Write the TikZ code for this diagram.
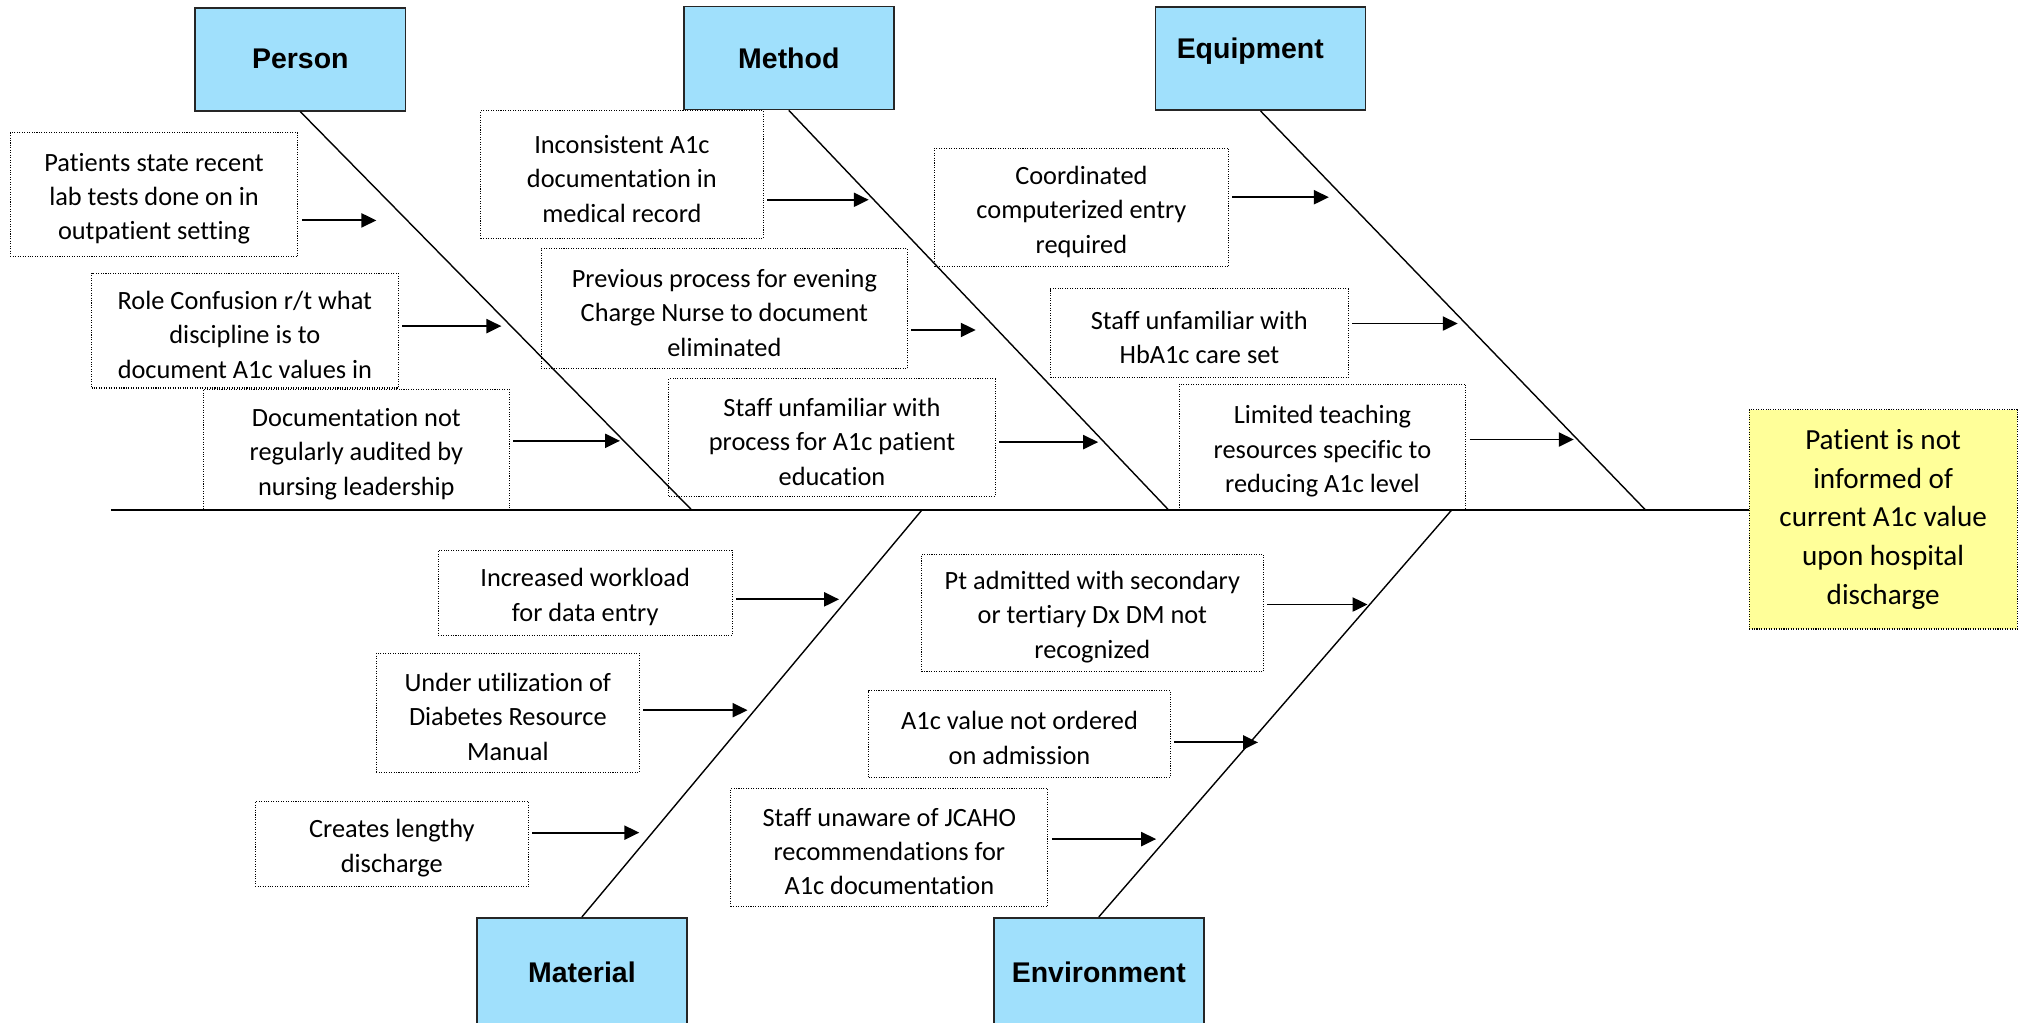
\documentclass[tikz,border=0pt]{standalone}
\usepackage{fontspec}
\setmainfont{Carlito}[Ligatures=CommonOff]
\newfontfamily\headfont{Liberation Sans}
\usetikzlibrary{arrows.meta}

\newcommand\unitpx{0.02578cm}
\newcommand\topgap{\rule{0pt}{15pt}}
\definecolor{catblue}{RGB}{160,224,252}
\definecolor{effectyellow}{RGB}{255,255,153}

\tikzset{
  catbox/.style={draw=black!85, line width=0.9pt, fill=catblue,
    minimum width=163*\unitpx, minimum height=80*\unitpx, inner sep=0pt,
    font=\headfont\bfseries\fontsize{16.2}{19}\selectfont},
  causebox/.style 2 args={draw, line width=0.6pt, dash pattern=on 0.6pt off 0.8pt,
    minimum width=#1*\unitpx, minimum height=#2*\unitpx, inner sep=0pt,
    align=center, font=\fontsize{15}{19.6}\selectfont},
  bone/.style={line width=0.8pt},
  causearrow/.style={line width=1.1pt, shorten <=2pt, -{Triangle[length=8.5pt,width=8pt]}}
}

\begin{document}
\begin{tikzpicture}[x=0.02578cm, y=-0.02578cm]
  \useasboundingbox (0,0) rectangle (1568,793);
  \clip (0,0) rectangle (1568,793);

  % categories
  \node[catbox] (person) at (233,46) {Person};
  \node[catbox] (method) at (612,45) {Method};
  \node[catbox, label={[font=\headfont\bfseries\fontsize{16.2}{19}\selectfont, xshift=-0.206cm, yshift=0.142cm]center:Equipment}] (equip) at (978,45.5) {};
  \node[catbox, minimum height=84*\unitpx] (material) at (451.5,754) {Material};
  \node[catbox, minimum height=84*\unitpx] (environ) at (852.5,754) {Environment};

  % effect
  \node[draw, line width=0.6pt, dash pattern=on 0.6pt off 0.8pt, fill=effectyellow,
    minimum width=208*\unitpx, minimum height=170*\unitpx, inner sep=0pt,
    align=center, font=\fontsize{16.6}{22}\selectfont] (effect) at (1461,403)
    {Patient is not\\informed of\\current A1c value\\upon hospital\\discharge};

  % spine and bones
  \coordinate (tail) at (86,396);
  \coordinate (personend) at (537,396);
  \coordinate (methodend) at (907,396);
  \coordinate (equipend) at (1277,396);
  \coordinate (materialend) at (715,396);
  \coordinate (environend) at (1126,396);
  \draw[line width=1.1pt] (tail) -- (tail -| effect.west);
  \draw[bone] (person.south) -- (personend);
  \draw[bone] (method.south) -- (methodend);
  \draw[bone] (equip.south) -- (equipend);
  \draw[bone] (materialend) -- (material.north);
  \draw[bone] (environend) -- (environ.north);

  % person causes
  \node[causebox={223}{96}] (p1) at (119.5,151) {\topgap Patients state recent\\lab tests done on in\\outpatient setting};
  \node[causebox={238}{89}] (p2) at (190,256.5) {\topgap Role Confusion r/t what\\discipline is to\\document A1c values in};
  \node[causebox={237}{94}] (p3) at (276.5,349) {\topgap Documentation not\\regularly audited by\\nursing leadership};
  \coordinate (p1tip) at (292,171);
  \coordinate (p2tip) at (389,253);
  \coordinate (p3tip) at (481,342);
  \draw[causearrow] (p1.east |- p1tip) -- (p1tip);
  \draw[causearrow] (p2.east |- p2tip) -- (p2tip);
  \draw[causearrow] (p3.east |- p3tip) -- (p3tip);

  % method causes
  \node[causebox={219}{99}] (m1) at (482.5,135.5) {\topgap Inconsistent A1c\\documentation in\\medical record};
  \node[causebox={284}{93}] (m2) at (562,239.5) {\topgap Previous process for evening\\Charge Nurse to document\\eliminated};
  \node[causebox={253}{91}] (m3) at (645.5,339.5) {\topgap Staff unfamiliar with\\process for A1c patient\\education};
  \coordinate (m1tip) at (674,155);
  \coordinate (m2tip) at (757,256);
  \coordinate (m3tip) at (852,343);
  \draw[causearrow] (m1.east |- m1tip) -- (m1tip);
  \draw[causearrow] (m2.east |- m2tip) -- (m2tip);
  \draw[causearrow] (m3.east |- m3tip) -- (m3tip);

  % equipment causes
  \node[causebox={228}{92}] (e1) at (839,161) {\topgap Coordinated\\computerized entry\\required};
  \node[causebox={231}{69}] (e2) at (930.5,258.5) {\topgap Staff unfamiliar with\\HbA1c care set};
  \node[causebox={222}{98}] (e3) at (1026,347) {\topgap Limited teaching\\resources specific to\\reducing A1c level};
  \coordinate (e1tip) at (1031,153);
  \coordinate (e2tip) at (1131,251);
  \coordinate (e3tip) at (1221,341);
  \draw[causearrow] (e1.east |- e1tip) -- (e1tip);
  \draw[causearrow] (e2.east |- e2tip) -- (e2tip);
  \draw[causearrow] (e3.east |- e3tip) -- (e3tip);

  % material causes
  \node[causebox={228}{66}] (t1) at (454,460) {\topgap Increased workload\\for data entry};
  \node[causebox={204}{92}] (t2) at (394,553) {\topgap Under utilization of\\Diabetes Resource\\Manual};
  \node[causebox={212}{66}] (t3) at (304,655) {\topgap Creates lengthy\\discharge};
  \coordinate (t1tip) at (651,465);
  \coordinate (t2tip) at (580,551);
  \coordinate (t3tip) at (496,646);
  \draw[causearrow] (t1.east |- t1tip) -- (t1tip);
  \draw[causearrow] (t2.east |- t2tip) -- (t2tip);
  \draw[causearrow] (t3.east |- t3tip) -- (t3tip);

  % environment causes
  \node[causebox={265}{91}] (v1) at (847.5,475.5) {\topgap Pt admitted with secondary\\or tertiary Dx DM not\\recognized};
  \node[causebox={234}{67}] (v2) at (791,569.5) {\topgap A1c value not ordered\\on admission};
  \node[causebox={246}{91}] (v3) at (690,657.5) {\topgap Staff unaware of JCAHO\\recommendations for\\A1c documentation};
  \coordinate (v1tip) at (1061,469);
  \coordinate (v2tip) at (976,576);
  \coordinate (v3tip) at (897,651);
  \draw[causearrow] (v1.east |- v1tip) -- (v1tip);
  \draw[causearrow] (v2.east |- v2tip) -- (v2tip);
  \draw[causearrow] (v3.east |- v3tip) -- (v3tip);
\end{tikzpicture}
\end{document}
